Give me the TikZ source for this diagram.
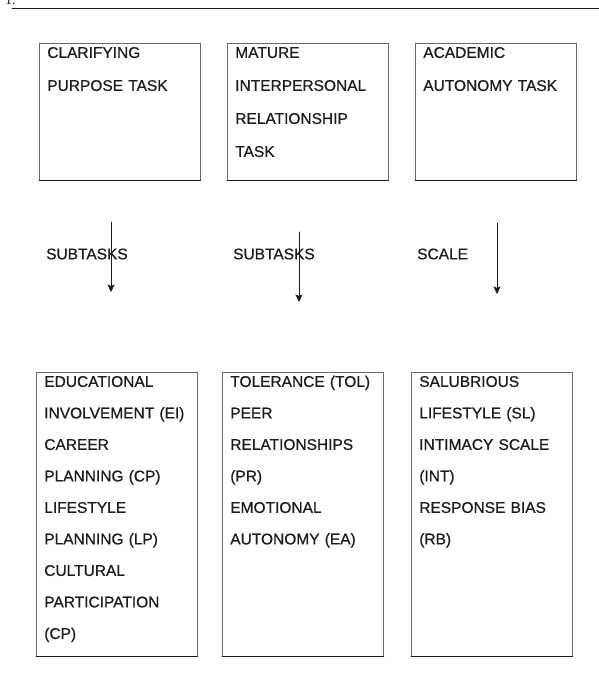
\documentclass[tikz,border=0pt]{standalone}
\usepackage{fontspec}
\setmainfont{Liberation Sans}[FakeBold=0.6]
\newfontfamily\numfont{Liberation Serif}
\usetikzlibrary{arrows.meta,positioning}
\definecolor{scanink}{HTML}{1C1C1C}
\definecolor{scanline}{HTML}{6A6A6A}

\begin{document}
\begin{tikzpicture}[x=1pt,y=-1pt,>={Stealth[length=7.5pt,width=7pt,inset=1.5pt]},line cap=round,
  text=scanink,
  task/.style={draw=scanline,line width=.6pt,anchor=north west,align=left,
    text width=145pt,inner xsep=8pt,inner ysep=3.3pt,text height=11.3pt},
  toprow/.style={task,text depth=119.1pt,font=\fontsize{15.5pt}{33pt}\selectfont},
  lowrow/.style={task,text depth=266.1pt,font=\fontsize{15.5pt}{31.5pt}\selectfont},
  boxbase/.style={scanink,line width=.8pt},
  rel/.style={anchor=west,inner sep=0pt,font=\fontsize{15.5pt}{18pt}\selectfont},
  flow/.style={->,scanink,line width=.6pt}]
\path[use as bounding box] (0,0) rectangle (599,683);
\fill[white] (0,0) rectangle (599,683);
% page number and rule
\node[anchor=base west,inner sep=0pt,font=\numfont\fontsize{14pt}{14pt}\selectfont] (pnum) at (5,4.5) {1.};
\draw[scanink,line width=.8pt] (12,8) -- (599,8);
% developmental tasks
\node[toprow] (clar)   at (39,43)  {CLARIFYING\\PURPOSE TASK};
\node[toprow] (mature) at (227,43) {MATURE\\INTERPERSONAL\\RELATIONSHIP\\TASK};
\node[toprow] (acad)   at (415,43) {ACADEMIC\\AUTONOMY TASK};
% subtasks and scales
\node[lowrow] (clarsub)   at (36,372)  {EDUCATIONAL\\INVOLVEMENT~(EI)\\CAREER\\PLANNING~(CP)\\LIFESTYLE\\PLANNING~(LP)\\CULTURAL\\PARTICIPATION\\(CP)};
\node[lowrow] (maturesub) at (222,372) {TOLERANCE~(TOL)\\PEER\\RELATIONSHIPS\\(PR)\\EMOTIONAL\\AUTONOMY~(EA)};
\node[lowrow] (acadsub)   at (411,372) {SALUBRIOUS\\LIFESTYLE~(SL)\\INTIMACY SCALE\\(INT)\\RESPONSE BIAS\\(RB)};
\foreach \b in {clar,mature,acad,clarsub,maturesub,acadsub}
  \draw[boxbase] (\b.south west) -- (\b.south east);
% relation labels
\node[rel] (relA) at (46,254)  {SUBTASKS};
\node[rel] (relB) at (233,254) {SUBTASKS};
\node[rel] (relC) at (417,254) {SCALE};
\coordinate (aTop) at (111,222);
\coordinate (aEnd) at (111,292);
\coordinate (bTop) at (299,232);
\coordinate (bEnd) at (299,302);
\coordinate (cTop) at (497,223);
\coordinate (cEnd) at (497,294);
\draw[flow] (aTop) -- (aEnd);
\draw[flow] (bTop) -- (bEnd);
\draw[flow] (cTop) -- (cEnd);
\end{tikzpicture}
\end{document}
